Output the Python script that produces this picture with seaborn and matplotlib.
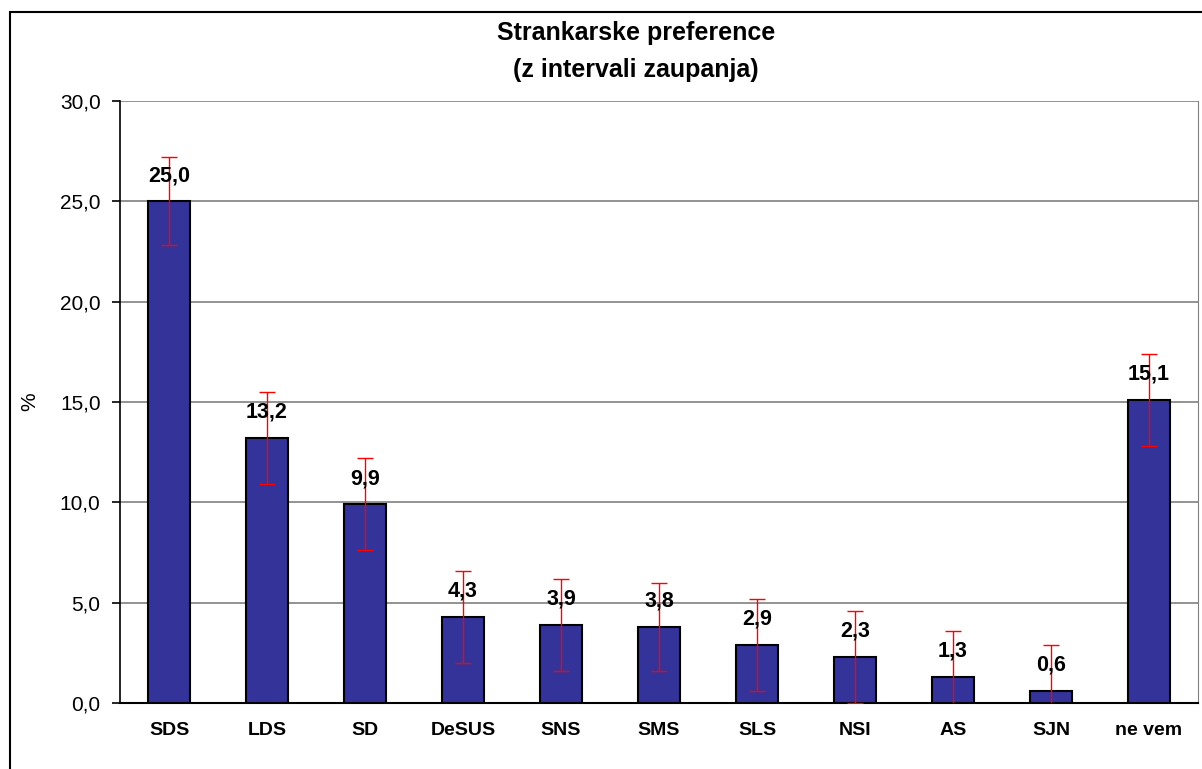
import numpy as np
import pandas as pd
import matplotlib
matplotlib.use('Agg')
import matplotlib.pyplot as plt
from matplotlib.patches import Rectangle
from matplotlib.ticker import MultipleLocator, FixedLocator, FuncFormatter
import seaborn as sns

# party preference data (percent) with confidence interval half-widths
stranke = ['SDS', 'LDS', 'SD', 'DeSUS', 'SNS', 'SMS', 'SLS', 'NSI', 'AS', 'SJN', 'ne vem']
odstotki = [25.0, 13.2, 9.9, 4.3, 3.9, 3.8, 2.9, 2.3, 1.3, 0.6, 15.1]
interval = [2.2, 2.3, 2.3, 2.3, 2.3, 2.2, 2.3, 2.3, 2.3, 2.3, 2.3]

df = pd.DataFrame({'stranka': stranke, 'odstotek': odstotki, 'ci': interval})

sns.set_style('white')
plt.rcParams['font.family'] = ['Liberation Sans', 'DejaVu Sans']
plt.rcParams['text.color'] = 'black'
plt.rcParams['xtick.color'] = 'black'
plt.rcParams['ytick.color'] = 'black'
plt.rcParams['axes.labelcolor'] = 'black'

W, H = 1202, 769
fig = plt.figure(figsize=(W / 100, H / 100), dpi=100)
ax = fig.add_axes([120 / W, 1 - 703 / H, (1198 - 120) / W, (703 - 101) / H])

sns.barplot(data=df, x='stranka', y='odstotek', color='#333399', saturation=1,
            width=0.42, edgecolor='black', linewidth=1.5, ax=ax, zorder=3)

x = np.arange(len(stranke))
ax.errorbar(x, df['odstotek'], yerr=df['ci'], fmt='none', ecolor='#ff0000',
            elinewidth=1, capsize=6, capthick=1, zorder=4)

for xi, v in zip(x, odstotki):
    ax.annotate(f'{v:.1f}'.replace('.', ','), (xi, v), xytext=(0, 11),
                textcoords='offset points', ha='center', va='bottom',
                fontsize=15.5, fontweight='bold', zorder=5)

ax.set_ylim(0, 30)
ax.set_xlim(-0.5, len(stranke) - 0.5)
ax.yaxis.set_major_locator(MultipleLocator(5))
ax.yaxis.set_major_formatter(FuncFormatter(lambda v, p: f'{v:.1f}'.replace('.', ',')))
ax.grid(axis='y', color='#808080', linewidth=1.2, zorder=0)
ax.set_axisbelow(True)

# ticks between categories like the original
ax.xaxis.set_minor_locator(FixedLocator(np.arange(-0.5, len(stranke), 1)))
ax.tick_params(axis='x', which='major', length=0, pad=14, labelsize=14)
ax.tick_params(axis='x', which='minor', length=6, width=1.2, color='black', direction='out')
ax.tick_params(axis='y', which='major', length=6, width=1.2, color='black',
               direction='out', left=True, labelsize=15, pad=8)
for lbl in ax.get_xticklabels():
    lbl.set_fontweight('bold')

ax.set_xlabel('')
ax.set_ylabel('%', fontsize=15)
ax.yaxis.set_label_coords(-0.075, 0.5)

ax.spines['top'].set_visible(False)
ax.spines['right'].set_color('#808080')
ax.spines['left'].set_color('black')
ax.spines['bottom'].set_color('black')
ax.spines['left'].set_linewidth(1.2)
ax.spines['bottom'].set_linewidth(1.5)

fig.text(636 / W, 1 - 33 / H, 'Strankarske preference', ha='center', va='center',
         fontsize=18, fontweight='bold')
fig.text(636 / W, 1 - 70 / H, '(z intervali zaupanja)', ha='center', va='center',
         fontsize=18, fontweight='bold')

# chart area border
fig.patches.append(Rectangle((10 / W, -0.05), 1.2, 1 - 12 / H + 0.05,
                             transform=fig.transFigure, fill=False,
                             edgecolor='black', linewidth=1.5))

fig.savefig('out.png', dpi=100)
